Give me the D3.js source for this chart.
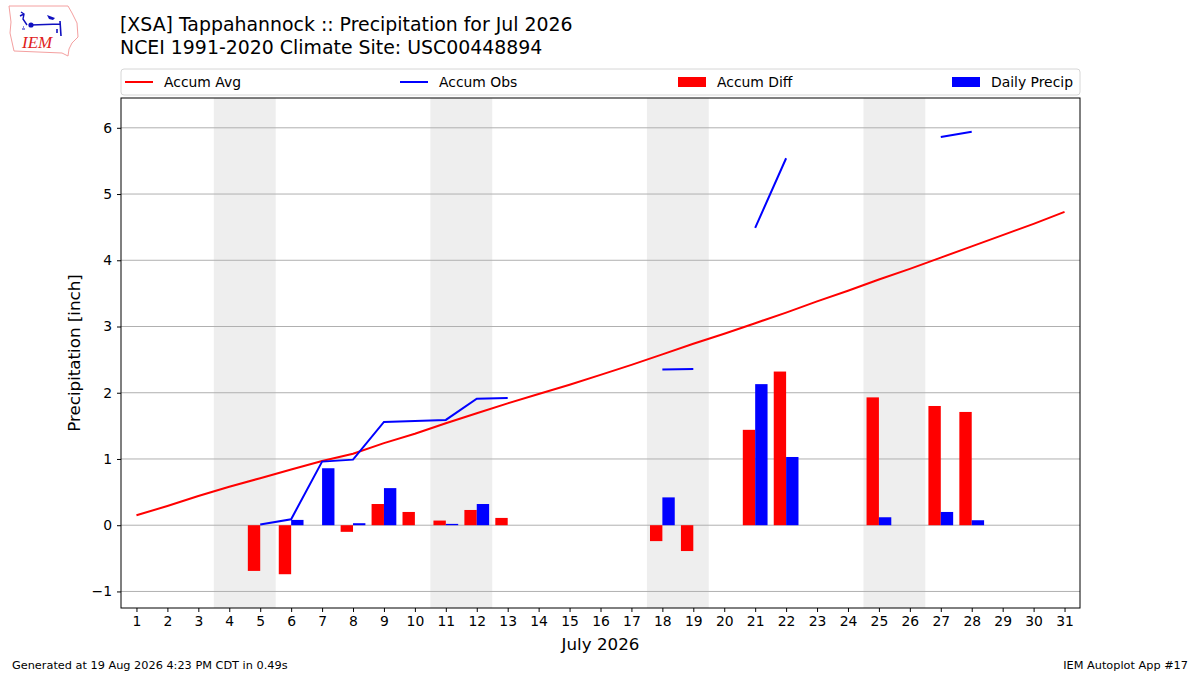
<!DOCTYPE html>
<html>
<head>
<meta charset="utf-8">
<script src="https://cdn.jsdelivr.net/npm/d3@7"></script>
<style>
  html, body { margin: 0; padding: 0; background: #fff; }
  svg { display: block; font-family: "DejaVu Sans", sans-serif; }
</style>
</head>
<body>
<div id="chart"></div>
<script>
// ---------- données ----------
const days = d3.range(1, 32);
const accumAvg = [0.15, 0.29, 0.44, 0.58, 0.71, 0.84, 0.97, 1.08, 1.24, 1.38,
  1.54, 1.69, 1.84, 1.98, 2.12, 2.27, 2.42, 2.58, 2.74, 2.89,
  3.05, 3.21, 3.38, 3.54, 3.71, 3.87, 4.04, 4.21, 4.38, 4.55, 4.73];
const accumObs = [null, null, null, null, 0.01, 0.09, 0.96, 0.99, 1.56, 1.575,
  1.59, 1.91, 1.92, null, null, null, null, 2.35, 2.36, null,
  4.49, 5.54, null, null, 5.65, null, 5.86, 5.94, null, null, null];
const accumDiff = [null, null, null, null, -0.69, -0.74, 0.00, -0.10, 0.32, 0.20,
  0.07, 0.23, 0.11, null, null, null, null, -0.24, -0.39, null,
  1.44, 2.32, null, null, 1.93, null, 1.80, 1.71, null, null, null];
const dailyPrecip = [null, null, null, null, 0.00, 0.08, 0.86, 0.03, 0.56, 0.00,
  0.02, 0.32, 0.00, null, null, null, null, 0.42, 0.00, null,
  2.13, 1.03, null, null, 0.12, null, 0.20, 0.075, null, null, null];
const weekendStarts = [4, 11, 18, 25];
const yTicks = [-1, 0, 1, 2, 3, 4, 5, 6];

const W = 1200, H = 675;
const m = { top: 98, right: 120, bottom: 67, left: 121 };
const innerW = W - m.left - m.right;
const innerH = H - m.top - m.bottom;

const svg = d3.select("#chart").append("svg")
  .attr("width", W).attr("height", H);

const g = svg.append("g").attr("transform", `translate(${m.left},${m.top})`);

const x = d3.scaleLinear().domain([0.5, 31.5]).range([0, innerW]);
const y = d3.scaleLinear().domain([-1.25, 6.45]).range([innerH, 0]);

// Week-ends
g.append("g").selectAll("rect")
  .data(weekendStarts)
  .enter().append("rect")
    .attr("x", d => x(d - 0.5))
    .attr("width", d => x(d + 1.5) - x(d - 0.5))
    .attr("y", 0).attr("height", innerH)
    .attr("fill", "#eeeeee");

// Grille horizontale
g.append("g").selectAll("line")
  .data(yTicks)
  .enter().append("line")
    .attr("x1", 0).attr("x2", innerW)
    .attr("y1", d => y(d)).attr("y2", d => y(d))
    .attr("stroke", "#b0b0b0").attr("stroke-width", 1);

// Barres
const rows = days.map((d, i) => ({ day: d, avg: accumAvg[i], obs: accumObs[i], diff: accumDiff[i], precip: dailyPrecip[i] }));
const bw = 0.4;

g.append("g").attr("fill", "#ff0000")
  .selectAll("rect")
  .data(rows.filter(d => d.diff !== null))
  .enter().append("rect")
    .attr("x", d => x(d.day - bw))
    .attr("width", x(bw) - x(0))
    .attr("y", d => y(Math.max(0, d.diff)))
    .attr("height", d => Math.abs(y(d.diff) - y(0)));

g.append("g").attr("fill", "#0000ff")
  .selectAll("rect")
  .data(rows.filter(d => d.precip !== null))
  .enter().append("rect")
    .attr("x", d => x(d.day))
    .attr("width", x(bw) - x(0))
    .attr("y", d => y(Math.max(0, d.precip)))
    .attr("height", d => Math.abs(y(d.precip) - y(0)));

// Lignes
g.append("path")
  .datum(rows)
  .attr("fill", "none").attr("stroke", "#ff0000").attr("stroke-width", 2)
  .attr("d", d3.line().x(d => x(d.day)).y(d => y(d.avg)));

g.append("path")
  .datum(rows)
  .attr("fill", "none").attr("stroke", "#0000ff").attr("stroke-width", 2)
  .attr("d", d3.line().defined(d => d.obs !== null).x(d => x(d.day)).y(d => y(d.obs)));

// Axes
const xAxis = g.append("g")
  .attr("transform", `translate(0,${innerH})`)
  .call(d3.axisBottom(x).tickValues(days).tickSize(4).tickPadding(4).tickFormat(d3.format("d")));
const yAxis = g.append("g")
  .call(d3.axisLeft(y).tickValues(yTicks).tickSize(4).tickPadding(5).tickFormat(d => d < 0 ? "\u2212" + Math.abs(d) : d));
[xAxis, yAxis].forEach(a => {
  a.select(".domain").remove();
  a.selectAll("text").attr("font-size", 13.9).attr("fill", "#000").attr("font-family", "DejaVu Sans");
  a.selectAll("line").attr("stroke", "#000");
});

// Cadre
g.append("rect")
  .attr("width", innerW).attr("height", innerH)
  .attr("fill", "none").attr("stroke", "#000").attr("stroke-width", 1);

// Libellés d'axes
g.append("text")
  .attr("x", innerW / 2).attr("y", innerH + 42)
  .attr("text-anchor", "middle").attr("font-size", 16.7)
  .text("July 2026");
g.append("text")
  .attr("transform", "rotate(-90)")
  .attr("x", -innerH / 2).attr("y", -41)
  .attr("text-anchor", "middle").attr("font-size", 16.7)
  .text("Precipitation [inch]");

// Légende
const leg = svg.append("g").attr("transform", `translate(${m.left},69)`);
leg.append("rect")
  .attr("width", innerW).attr("height", 26).attr("rx", 3)
  .attr("fill", "#fff").attr("stroke", "#d6d6d6");
const legItems = [
  { label: "Accum Avg", color: "#ff0000", kind: "line", x: 4 },
  { label: "Accum Obs", color: "#0000ff", kind: "line", x: 279 },
  { label: "Accum Diff", color: "#ff0000", kind: "rect", x: 557 },
  { label: "Daily Precip", color: "#0000ff", kind: "rect", x: 831 }
];
legItems.forEach(it => {
  const gi = leg.append("g").attr("transform", `translate(${it.x},13)`);
  if (it.kind === "line") {
    gi.append("line").attr("x1", 0).attr("x2", 28).attr("stroke", it.color).attr("stroke-width", 2);
  } else {
    gi.append("rect").attr("x", 0).attr("y", -5).attr("width", 28).attr("height", 10).attr("fill", it.color);
  }
  gi.append("text").attr("x", 39).attr("y", 5).attr("font-size", 13.9).text(it.label);
});

// Titre
svg.append("text").attr("x", 120).attr("y", 31).attr("font-size", 18.9).text("[XSA] Tappahannock :: Precipitation for Jul 2026");
svg.append("text").attr("x", 120).attr("y", 54).attr("font-size", 18.9).text("NCEI 1991-2020 Climate Site: USC00448894");

// Pied de page
svg.append("text").attr("x", 12).attr("y", 669).attr("font-size", 11.3).text("Generated at 19 Aug 2026 4:23 PM CDT in 0.49s");
svg.append("text").attr("x", 1188).attr("y", 669).attr("font-size", 11.3).attr("text-anchor", "end").text("IEM Autoplot App #17");

// Logo IEM (approximation)
const logo = svg.append("g");
logo.append("path")
  .attr("d", "M9,6 L68,6 L72,13 L77,23 L78,37 L72,43 L69,49 L68,56 L62,53 L14,51 L12,42 L10,33 L11,22 Z")
  .attr("fill", "#fff").attr("stroke", "#f4a0a0").attr("stroke-width", 1);
logo.append("path").attr("d", "M21,12 L24,14 L23,19 L27,25 M20,16 L24,14")
  .attr("stroke", "#1010c0").attr("stroke-width", 1.4).attr("fill", "none");
logo.append("circle").attr("cx", 31).attr("cy", 25).attr("r", 2.6).attr("fill", "#1010c0");
logo.append("path").attr("d", "M31,25 L60,24 M60,21 L61,36 M57,33 L57,29")
  .attr("stroke", "#1010c0").attr("stroke-width", 1.6).attr("fill", "none");
logo.append("path").attr("d", "M47,15 L55,18 L53,20 L49,19 Z").attr("fill", "#1010c0");
logo.append("path").attr("d", "M23,27 L24,27 M22,29 L25,29").attr("stroke", "#1010c0").attr("stroke-width", 1);
logo.append("text").attr("x", 22).attr("y", 48).attr("font-family", "Liberation Serif, serif").attr("font-style", "italic").attr("font-size", 17).attr("fill", "#e02020").text("IEM");
</script>
</body>
</html>
